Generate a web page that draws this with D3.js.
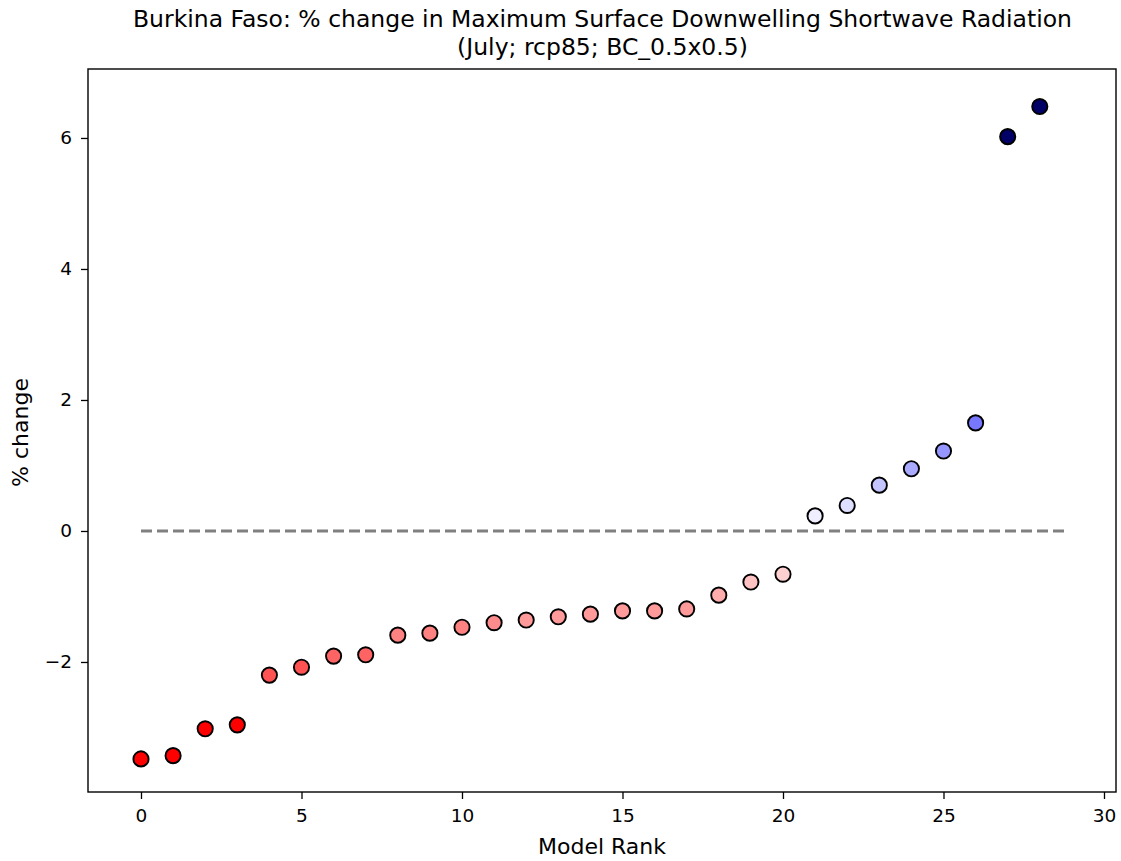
<!DOCTYPE html>
<html>
<head>
<meta charset="utf-8">
<script src="https://cdn.jsdelivr.net/npm/d3@7"></script>
<style>
  body { margin: 0; background: #fff; }
  svg { display: block; font-family: "DejaVu Sans", sans-serif; }
</style>
</head>
<body>
<svg id="chart" width="1121" height="861"></svg>
<script>
const ranks = d3.range(0, 29);
const values = [-3.48, -3.43, -3.02, -2.96, -2.20, -2.08, -1.91, -1.89, -1.59, -1.56,
                -1.47, -1.40, -1.36, -1.31, -1.27, -1.22, -1.22, -1.19, -0.98, -0.78,
                -0.66, 0.23, 0.39, 0.70, 0.95, 1.22, 1.65, 6.02, 6.48];
const colors = ["#ff0000", "#ff0000", "#ff0000", "#ff0000", "#ff5252", "#ff5252", "#ff6464", "#ff6464",
                "#ff8282", "#ff8282", "#ff8282", "#ff8c8c", "#ff9a9a", "#ff9a9a", "#ff9a9a", "#ff9a9a",
                "#ff9a9a", "#ff9a9a", "#ffacac", "#ffc2c2", "#ffd0d0", "#eeeeff", "#dedeff", "#c4c4ff",
                "#aaaaff", "#9696ff", "#7777ff", "#000066", "#000066"];
const xTicks = [0, 5, 10, 15, 20, 25, 30];
const yTicks = [-2, 0, 2, 4, 6];
const zeroLine = [0, 28.88];
const titleLines = ["Burkina Faso: % change in Maximum Surface Downwelling Shortwave Radiation",
                    "(July; rcp85; BC_0.5x0.5)"];

const svg = d3.select("#chart");
const L = 88, R = 1116, T = 69, B = 792;

const x = d3.scaleLinear().domain([-1.651, 30.374]).range([L, R]);
const y = d3.scaleLinear().domain([-3.985, 7.053]).range([B, T]);

const fmt = d3.format("d");

// axes
const xAxis = svg.append("g").attr("transform", `translate(0,${B})`)
  .call(d3.axisBottom(x).tickValues(xTicks).tickFormat(fmt).tickSizeOuter(0).tickSize(7).tickPadding(10));
const yAxis = svg.append("g").attr("transform", `translate(${L},0)`)
  .call(d3.axisLeft(y).tickValues(yTicks).tickFormat(fmt).tickSizeOuter(0).tickSize(7).tickPadding(9));
[xAxis, yAxis].forEach(g => {
  g.select(".domain").remove();
  g.selectAll(".tick line").attr("stroke", "#000").attr("stroke-width", 1.3);
  g.selectAll(".tick text").attr("font-size", 18.5).attr("fill", "#000")
    .attr("font-family", "DejaVu Sans, sans-serif");
});

// zero dashed line
svg.append("line")
  .attr("x1", x(zeroLine[0])).attr("x2", x(zeroLine[1]))
  .attr("y1", y(0)).attr("y2", y(0))
  .attr("stroke", "#808080").attr("stroke-width", 3)
  .attr("stroke-dasharray", "11,5");

// points
svg.append("g").selectAll("circle").data(values).join("circle")
  .attr("cx", (d, i) => x(ranks[i]))
  .attr("cy", d => y(d))
  .attr("r", 7.6)
  .attr("fill", (d, i) => colors[i])
  .attr("stroke", "#000")
  .attr("stroke-width", 1.9);

// frame
svg.append("rect").attr("x", L).attr("y", T).attr("width", R - L).attr("height", B - T)
  .attr("fill", "none").attr("stroke", "#000").attr("stroke-width", 1.4);

// title
svg.append("g").selectAll("text").data(titleLines).join("text")
  .attr("x", (L + R) / 2 + 0.5).attr("y", (d, i) => 27 + i * 28)
  .attr("text-anchor", "middle").attr("font-size", 23.5).attr("fill", "#000")
  .text(d => d);

// axis labels
svg.append("text").attr("x", (L + R) / 2).attr("y", 854)
  .attr("text-anchor", "middle").attr("font-size", 22).text("Model Rank");
svg.append("text").attr("transform", `translate(28,${(T + B) / 2 + 2}) rotate(-90)`)
  .attr("text-anchor", "middle").attr("font-size", 22).text("% change");
</script>
</body>
</html>
